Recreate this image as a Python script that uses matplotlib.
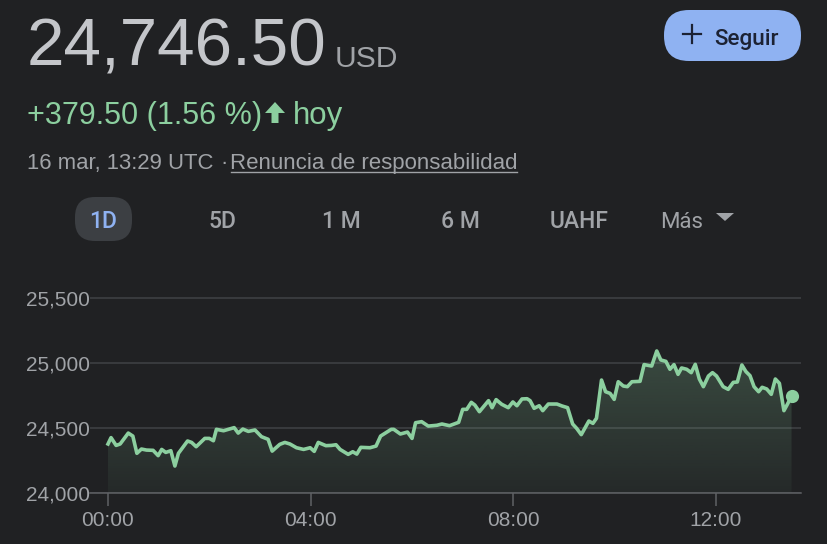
import numpy as np
import matplotlib
matplotlib.use("Agg")
import matplotlib.pyplot as plt
from matplotlib.patches import FancyBboxPatch, Polygon
from matplotlib.ticker import FuncFormatter

plt.rcParams["font.family"] = ["Liberation Sans", "DejaVu Sans"]

# ----------- DATA -----------
hours = [0.0, 0.06, 0.16, 0.24, 0.40, 0.49, 0.57, 0.66, 0.76, 0.89, 0.99, 1.06, 1.14, 1.24, 1.32,
         1.39, 1.57, 1.65, 1.74, 1.91, 2.00, 2.08, 2.14, 2.28, 2.49, 2.57, 2.66, 2.77, 2.90, 3.03,
         3.16, 3.24, 3.39, 3.49, 3.59, 3.72, 3.86, 3.99, 4.07, 4.15, 4.30, 4.41, 4.50, 4.58, 4.74,
         4.83, 4.91, 4.99, 5.17, 5.29, 5.38, 5.59, 5.64, 5.77, 5.91, 6.00, 6.07, 6.19, 6.32, 6.49,
         6.59, 6.74, 6.92, 7.00, 7.08, 7.17, 7.24, 7.33, 7.51, 7.58, 7.66, 7.77, 7.90, 7.99, 8.07,
         8.17, 8.27, 8.33, 8.41, 8.51, 8.58, 8.69, 8.86, 8.96, 9.07, 9.17, 9.25, 9.34, 9.49, 9.57,
         9.64, 9.74, 9.82, 9.91, 9.99, 10.07, 10.17, 10.25, 10.34, 10.50, 10.58, 10.73, 10.83, 10.91,
         11.01, 11.09, 11.17, 11.25, 11.32, 11.42, 11.51, 11.59, 11.67, 11.75, 11.85, 11.93, 12.01,
         12.14, 12.24, 12.34, 12.42, 12.51, 12.59, 12.67, 12.75, 12.84, 12.91, 13.00, 13.09, 13.17,
         13.25, 13.34, 13.40, 13.49]
prices = [24378, 24427, 24367, 24378, 24462, 24439, 24306, 24339, 24331, 24329, 24288, 24336, 24313, 24326, 24208,
          24306, 24401, 24390, 24357, 24421, 24421, 24403, 24491, 24480, 24504, 24462, 24493, 24475, 24486, 24434,
          24414, 24323, 24375, 24390, 24378, 24349, 24336, 24349, 24321, 24390, 24365, 24367, 24372, 24336, 24298,
          24318, 24300, 24352, 24349, 24362, 24439, 24491, 24491, 24455, 24470, 24421, 24542, 24550, 24516, 24522,
          24532, 24519, 24545, 24645, 24645, 24699, 24678, 24627, 24712, 24658, 24720, 24684, 24658, 24702, 24673,
          24725, 24727, 24712, 24653, 24673, 24635, 24686, 24686, 24671, 24658, 24532, 24498, 24450, 24555, 24537,
          24576, 24871, 24781, 24768, 24722, 24858, 24825, 24820, 24858, 24861, 24990, 24979, 25095, 25026,
          25015, 24954, 24990, 24915, 24964, 24954, 24928, 24992, 24879, 24820, 24902, 24928, 24902,
          24820, 24799, 24853, 24856, 24987, 24936, 24905, 24820, 24781, 24815, 24802, 24761, 24879,
          24846, 24635, 24678, 24746.5]
ytick_vals = [24000, 24500, 25000, 25500]
xtick_vals = [0, 4, 8, 12]
xtick_labels = ["00:00", "04:00", "08:00", "12:00"]
range_tabs = ["5D", "1 M", "6 M", "UAHF"]

BG = "#202123"
GREY = "#a0a3a7"
GREEN = "#8ccf9f"
BLUE = "#8fb2f2"
MEDIUM = ["Roboto", "DejaVu Sans"]

fig = plt.figure(figsize=(8.28, 5.44), dpi=100, facecolor=BG)

# overlay in pixels for the page text
page = fig.add_axes([0, 0, 1, 1])
page.set_xlim(0, 828)
page.set_ylim(544, 0)
page.axis("off")

page.text(27, 65, "24,746.50", fontsize=48.5, color="#c4c6ca", va="baseline")
page.text(334.5, 67, "USD", fontsize=21.6, color=GREY, va="baseline")
page.text(27, 124, "+379.50 (1.56 %)", fontsize=22, color=GREEN, va="baseline")
page.add_patch(Polygon([(275, 102), (285, 113), (278.5, 113), (278.5, 123), (271.5, 123), (271.5, 113), (265, 113)],
                       closed=True, color=GREEN, lw=0))
page.text(292.5, 124, "hoy", fontsize=22.5, color=GREEN, va="baseline")
page.text(27, 169, "16 mar, 13:29 UTC", fontsize=15.9, color=GREY, va="baseline")
page.text(220, 169, "\u00b7", fontsize=15.9, color=GREY, va="baseline")
page.text(230, 169, "Renuncia de responsabilidad", fontsize=16, color=GREY, va="baseline")
page.plot([231, 517], [172, 172], color=GREY, lw=1.0)

# follow button
page.add_patch(FancyBboxPatch((664 + 25, 10 + 25), 137 - 50, 51 - 50, boxstyle="round,pad=25",
                              fc=BLUE, ec="none"))
page.plot([692, 692], [25, 43], color="#1c2233", lw=1.6)
page.plot([683, 701], [34, 34], color="#1c2233", lw=1.6)
page.text(714.5, 45, "Seguir", fontsize=16.2, color="#1c2233", va="baseline", family=MEDIUM, weight="medium")

# range tabs
page.add_patch(FancyBboxPatch((75 + 20, 197 + 20), 57 - 40, 44 - 40, boxstyle="round,pad=20",
                              fc="#3c3f43", ec="none"))
page.text(103.5, 228, "1D", fontsize=16.5, color=BLUE, ha="center", va="baseline",
          family=MEDIUM, weight="medium")
for tab, cx in zip(range_tabs, [222, 341, 460, 579]):
    page.text(cx, 228, tab, fontsize=16.5, color=GREY, ha="center", va="baseline",
              family=MEDIUM, weight="medium")
page.text(660, 228, "M\u00e1s", fontsize=16, color=GREY, va="baseline", family=MEDIUM)
page.add_patch(Polygon([(716, 213), (734, 213), (725, 221)], closed=True, color=GREY, lw=0))

# ----------- CHART -----------
left, right = 90, 801
y_base, y_top = 493, 285.5
ax = fig.add_axes([left / 828, (544 - y_base) / 544, (right - left) / 828, (y_base - y_top) / 544])
ax.patch.set_alpha(0)
for side in ["top", "right", "left"]:
    ax.spines[side].set_visible(False)
ax.spines["bottom"].set_color("#5f6165")
ax.spines["bottom"].set_linewidth(1.1)

ax.set_yticks(ytick_vals)
ax.yaxis.set_major_formatter(FuncFormatter(lambda v, p: f"{v:,.0f}"))
ax.tick_params(axis="y", length=0, pad=0, labelsize=15, labelcolor=GREY)
ax.set_xticks(xtick_vals)
ax.set_xticklabels(xtick_labels)
ax.tick_params(axis="x", length=9.5, width=1.1, color="#5f6165", pad=3.5, labelsize=15, labelcolor=GREY)
ax.grid(axis="y", color="#404245", lw=1.1, zorder=1)

# fill under the line, fading downwards
top_val = max(prices)
rgba = np.zeros((256, 1, 4))
rgba[:, :, :3] = matplotlib.colors.to_rgb(GREEN)
rgba[:, :, 3] = np.linspace(0.24, 0.05, 256).reshape(-1, 1)
im = ax.imshow(rgba, extent=[hours[0], hours[-1], 24000, top_val], origin="upper",
               aspect="auto", zorder=2)
fill = ax.fill_between(hours, prices, 24000, color="none")
im.set_clip_path(fill.get_paths()[0], transform=ax.transData)
ax.set_xlim((left - 108) / 50.67, (right - 108) / 50.67)
ax.set_ylim(24000, 25600)

ax.plot(hours, prices, color=GREEN, lw=2.6, solid_joinstyle="round", zorder=3)
ax.plot(hours[-1], prices[-1], "o", color=GREEN, ms=9.5, mew=0, zorder=4)

fig.savefig("out.png", dpi=100, facecolor=BG)
